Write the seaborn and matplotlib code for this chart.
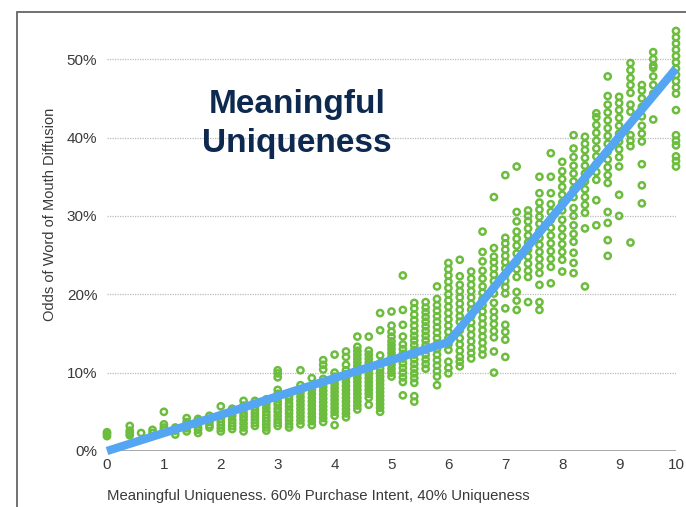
import pandas as pd
import seaborn as sns
from matplotlib import pyplot as plt
from matplotlib.patches import Rectangle

# x position of every column of survey points
col_x = [0.0, 0.4, 0.6, 0.8, 1.0, 1.2, 1.4, 1.6, 1.8, 2.0,
         2.2, 2.4, 2.6, 2.8, 3.0, 3.2, 3.4, 3.6, 3.8, 4.0,
         4.2, 4.4, 4.6, 4.8, 5.0, 5.2, 5.4, 5.6, 5.8, 6.0,
         6.2, 6.4, 6.6, 6.8, 7.0, 7.2, 7.4, 7.6, 7.8, 8.0,
         8.2, 8.4, 8.6, 8.8, 9.0, 9.2, 9.4, 9.6, 10.0]

# odds of word of mouth diffusion (%) for each column
col_y = [
    [1.9, 2.2, 2.4],
    [2.0, 2.3, 2.6, 3.2],
    [2.3],
    [2.3, 2.7],
    [2.7, 3.0, 3.4, 5.0],
    [2.1, 2.6, 3.0],
    [2.5, 2.9, 3.3, 3.7, 4.2],
    [2.3, 2.7, 3.0, 3.4, 3.8, 4.1],
    [3.0, 3.3, 3.7, 4.1, 4.5],
    [2.5, 2.9, 3.3, 3.7, 4.1, 5.7],
    [2.8, 3.2, 3.6, 4.0, 4.5, 5.0, 5.4],
    [2.5, 3.0, 3.5, 4.0, 4.4, 4.8, 5.3, 5.8, 6.4],
    [3.2, 3.6, 4.0, 4.4, 4.8, 5.2, 5.6, 6.0, 6.4],
    [2.6, 3.0, 3.4, 3.8, 4.2, 4.6, 5.0, 5.5, 6.0, 6.6],
    [3.2, 3.6, 4.0, 4.5, 5.0, 5.4, 5.9, 6.3, 6.8, 7.3, 7.8, 9.4, 9.9, 10.3],
    [3.0, 3.4, 3.9, 4.3, 4.8, 5.2, 5.7, 6.1, 6.6, 7.0],
    [3.4, 3.9, 4.4, 4.9, 5.4, 5.9, 6.4, 6.9, 7.4, 7.9, 8.4, 10.3],
    [3.3, 3.8, 4.3, 4.8, 5.3, 5.8, 6.3, 6.8, 7.3, 7.8, 8.3, 9.3],
    [3.7, 4.2, 4.7, 5.2, 5.7, 6.2, 6.7, 7.2, 7.7, 8.2, 8.7, 9.2, 10.4, 11.0, 11.6],
    [3.3, 4.5, 5.0, 5.5, 6.0, 6.5, 7.0, 7.5, 8.0, 8.5, 9.0, 9.5, 10.0, 12.3],
    [4.3, 4.8, 5.3, 5.8, 6.3, 6.8, 7.3, 7.8, 8.3, 8.8, 9.3, 9.8, 10.3, 11.0, 12.0, 12.7],
    [5.3, 5.8, 6.3, 6.8, 7.3, 7.8, 8.3, 8.8, 9.3, 9.8, 10.3, 10.8, 11.3, 11.8, 12.3, 12.8, 13.3, 14.6],
    [5.9, 6.8, 7.3, 7.8, 8.3, 8.8, 9.3, 9.8, 10.3, 10.8, 11.3, 11.8, 12.3, 12.8, 14.6],
    [5.0, 5.5, 6.0, 6.5, 7.0, 7.5, 8.0, 8.5, 9.0, 9.5, 10.0, 10.5, 11.2, 12.2, 15.4, 17.6],
    [9.5, 10.0, 10.5, 11.0, 11.5, 12.0, 12.5, 13.0, 13.5, 14.0, 14.6, 15.2, 16.0, 17.8],
    [7.1, 8.8, 9.4, 10.0, 10.6, 11.2, 11.8, 12.4, 13.0, 13.6, 14.6, 16.1, 18.0, 22.4],
    [6.3, 7.0, 8.7, 9.3, 9.9, 10.5, 11.1, 11.7, 12.3, 12.9, 13.5, 14.1, 14.7, 15.3, 16.0, 16.7, 17.4, 18.2, 18.9],
    [10.5, 11.1, 11.7, 12.3, 12.9, 13.5, 14.1, 14.7, 15.3, 15.9, 16.5, 17.1, 17.7, 18.3, 19.0],
    [8.4, 9.5, 10.2, 10.9, 11.6, 12.3, 13.0, 13.7, 14.4, 15.1, 15.8, 16.5, 17.2, 17.9, 18.6, 19.4, 21.0],
    [9.9, 10.6, 11.4, 12.9, 13.6, 14.4, 15.2, 16.0, 16.8, 17.6, 18.4, 19.2, 20.0, 20.8, 21.6, 22.4, 23.2, 24.0],
    [10.8, 11.4, 12.0, 12.8, 13.6, 14.4, 15.4, 16.5, 17.2, 18.0, 18.8, 19.6, 20.4, 21.2, 22.3, 24.4],
    [11.8, 12.5, 13.2, 14.0, 14.8, 15.6, 16.4, 17.2, 18.0, 18.8, 19.6, 20.4, 21.2, 22.0, 22.9],
    [12.3, 13.0, 13.8, 14.6, 15.4, 16.2, 17.0, 17.8, 18.6, 19.4, 20.2, 21.0, 22.0, 23.0, 24.2, 25.4, 28.0],
    [10.0, 12.7, 14.5, 15.3, 16.2, 17.0, 17.8, 18.9, 20.1, 20.9, 21.7, 22.5, 23.3, 24.1, 24.8, 25.9, 32.4],
    [12.0, 14.2, 15.2, 16.1, 18.2, 20.1, 20.9, 21.7, 22.5, 23.3, 24.1, 24.9, 25.7, 26.5, 27.2, 35.2],
    [18.0, 19.2, 20.3, 22.2, 23.2, 24.2, 25.2, 26.2, 27.1, 28.0, 29.3, 30.5, 36.3],
    [19.0, 22.2, 23.0, 23.9, 24.8, 25.7, 26.6, 27.5, 28.4, 29.3, 30.0, 30.7],
    [18.0, 19.0, 21.2, 22.7, 23.6, 24.5, 25.4, 26.3, 27.2, 28.1, 29.0, 29.9, 30.8, 31.7, 32.9, 35.0],
    [21.4, 23.5, 24.5, 25.5, 26.5, 27.5, 28.5, 29.5, 30.5, 31.5, 32.9, 35.0, 38.0],
    [22.9, 24.4, 25.4, 26.4, 27.4, 28.4, 29.5, 30.7, 31.7, 32.7, 33.7, 34.7, 35.7, 36.9],
    [22.7, 24.0, 25.3, 26.7, 27.7, 28.8, 30.0, 31.0, 32.4, 33.4, 34.4, 35.4, 36.4, 37.5, 38.6, 40.3],
    [21.0, 28.4, 30.4, 31.4, 32.4, 33.4, 34.4, 35.4, 36.4, 37.4, 38.4, 39.2, 40.1],
    [28.8, 32.0, 34.6, 35.6, 36.6, 37.6, 38.6, 39.6, 40.6, 41.6, 42.6, 43.1],
    [24.9, 26.9, 29.1, 30.5, 34.2, 35.2, 36.2, 37.2, 38.2, 39.2, 40.2, 41.2, 42.2, 43.2, 44.2, 45.3, 47.8],
    [30.0, 32.7, 36.3, 37.5, 38.5, 39.5, 40.5, 41.5, 42.5, 43.5, 44.4, 45.2],
    [26.6, 38.9, 39.6, 40.3, 43.3, 44.2, 45.7, 46.7, 47.6, 48.6, 49.5],
    [31.6, 33.9, 36.6, 39.5, 40.5, 41.5, 42.7, 43.9, 45.0, 46.0, 46.7],
    [42.3, 45.6, 46.7, 47.8, 48.9, 49.2, 50.0, 50.9],
    [36.3, 37.0, 37.6, 39.0, 39.6, 40.3, 43.5, 45.6, 46.4, 47.2, 48.0, 48.8, 49.6, 50.4, 51.2, 52.0, 52.8, 53.6],
]

# fitted trend line
line_x = [0, 1, 2, 3, 4, 5, 6, 7, 8, 9, 10]
line_y = [0.0, 2.3, 4.6, 7.0, 9.3, 11.6, 13.9, 22.6, 31.4, 40.1, 48.8]

y_ticks = [0, 10, 20, 30, 40, 50]
x_ticks = [0, 1, 2, 3, 4, 5, 6, 7, 8, 9, 10]

GREEN = '#6cbd3e'
BLUE = '#55a6f2'
TEXT = '#3a3a3a'

points = pd.DataFrame({
    'x': [x for x, ys in zip(col_x, col_y) for _ in ys],
    'y': [y for ys in col_y for y in ys],
})
trend = pd.DataFrame({'x': line_x, 'y': line_y})

sns.set_theme(style='white')
plt.rcParams['font.family'] = ['Liberation Sans', 'DejaVu Sans']

fig = plt.figure(figsize=(6.86, 5.07), dpi=100)
ax = fig.add_axes([107 / 686, 56 / 507, 569 / 686, 431 / 507])

sns.scatterplot(data=points, x='x', y='y', ax=ax, marker='o', s=20,
                facecolor='none', edgecolor=GREEN, linewidth=1.8,
                clip_on=False, zorder=3)
sns.lineplot(data=trend, x='x', y='y', ax=ax, color=BLUE, linewidth=6,
             solid_capstyle='butt', clip_on=False, zorder=4)

ax.set_xlim(0, 10)
ax.set_ylim(0, 55)
ax.set_xticks(x_ticks)
ax.set_yticks(y_ticks)
ax.set_yticklabels([f'{t}%' for t in y_ticks])
ax.tick_params(axis='y', length=0, pad=7, labelsize=11, labelcolor=TEXT)
ax.tick_params(axis='x', length=0, pad=5, labelsize=11, labelcolor=TEXT)

for t in y_ticks[1:]:
    ax.axhline(t, color='#bbbbbb', linewidth=0.9, linestyle=(0, (1, 1)), zorder=1)
ax.axhline(0, color='#999999', linewidth=1.2, zorder=2)

for side in ['left', 'right', 'top', 'bottom']:
    ax.spines[side].set_visible(False)

ax.set_xlabel('Meaningful Uniqueness. 60% Purchase Intent, 40% Uniqueness',
              loc='left', fontsize=10.7, color=TEXT, labelpad=12)
ax.set_ylabel('')
fig.text(50 / 686, 1 - 214 / 507, 'Odds of Word of Mouth Diffusion',
         rotation=90, ha='center', va='center', fontsize=10.5, color=TEXT)

fig.text(297 / 686, 1 - 124 / 507, 'Meaningful\nUniqueness',
         ha='center', va='center', fontsize=24, fontweight='bold',
         color='#0e2950', linespacing=1.3)

# slide frame around the chart
fig.add_artist(Rectangle((17 / 686, -0.1), 1.0, 1 - 12 / 507 + 0.1,
                         transform=fig.transFigure, fill=False,
                         edgecolor='#666666', linewidth=1.3))

fig.savefig('out.png', dpi=100)
plt.close(fig)
